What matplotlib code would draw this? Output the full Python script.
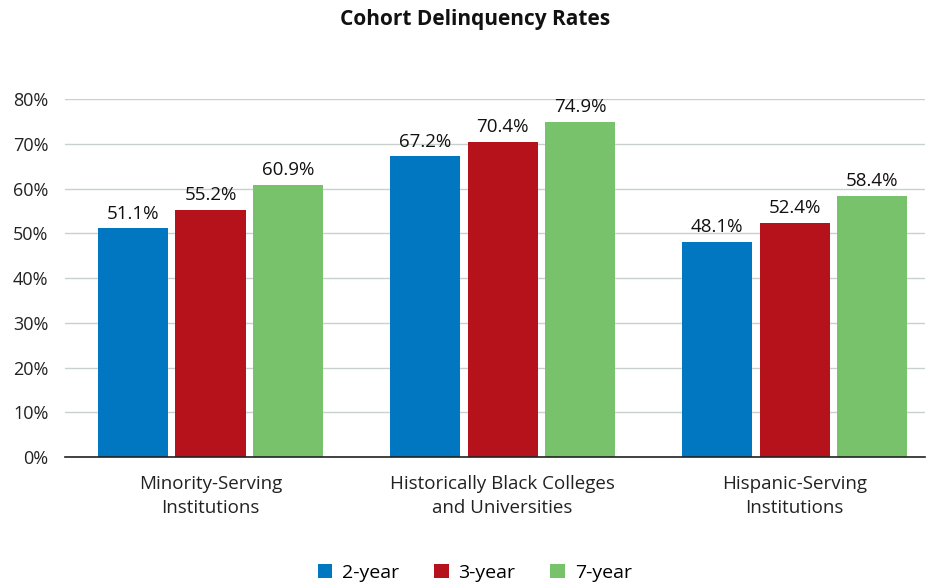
import matplotlib.pyplot as plt
import numpy as np

plt.rcParams['font.family'] = ['Open Sans', 'DejaVu Sans']

# Data
categories = ["Minority-Serving\nInstitutions",
              "Historically Black Colleges\nand Universities",
              "Hispanic-Serving\nInstitutions"]
series = ["2-year", "3-year", "7-year"]
rate_2yr = [51.1, 67.2, 48.1]
rate_3yr = [55.2, 70.4, 52.4]
rate_7yr = [60.9, 74.9, 58.4]
yticks = [0, 10, 20, 30, 40, 50, 60, 70, 80]

colors = ["#0077C0", "#B5121B", "#77C26A"]

fig = plt.figure(figsize=(9.27, 5.83), dpi=100)
ax = fig.add_axes([0.0701, 0.2161, 0.928, 0.614])

x = np.arange(len(categories))
width = 0.24
offset = 0.265
for i, (vals, name) in enumerate(zip([rate_2yr, rate_3yr, rate_7yr], series)):
    pos = x + (i - 1) * offset
    ax.bar(pos, vals, width, color=colors[i], label=name, zorder=3)
    for xb, v in zip(pos, vals):
        ax.text(xb, v + 1.3, f"{v:.1f}%", ha="center", va="bottom",
                fontsize=13.5, color="#111111")

ax.set_xlim(-0.498, 2.447)
ax.set_ylim(0, 80)
ax.set_yticks(yticks)
ax.set_yticklabels([f"{t}%" for t in yticks], fontsize=13, color="#222222")
ax.set_xticks(x)
ax.set_xticklabels(categories, fontsize=13.5, color="#222222", linespacing=1.45)
ax.tick_params(axis="y", length=0, pad=12)
ax.tick_params(axis="x", length=0, pad=13)

ax.grid(axis="y", color="#C9D1CD", linewidth=1, zorder=0)
for s in ["top", "right", "left"]:
    ax.spines[s].set_visible(False)
ax.spines["bottom"].set_color("#222222")
ax.spines["bottom"].set_linewidth(1.2)
ax.spines["bottom"].set_zorder(4)

fig.text(0.512, 0.966, "Cohort Delinquency Rates", ha="center", va="center",
         fontsize=15, fontweight="bold", color="#111111")

fig.legend(loc="center", bbox_to_anchor=(0.512, 0.018), ncol=3, frameon=False,
           fontsize=14, handlelength=0.75, handleheight=0.75, columnspacing=1.8,
           handletextpad=0.5)

fig.savefig("out.png", dpi=100)
